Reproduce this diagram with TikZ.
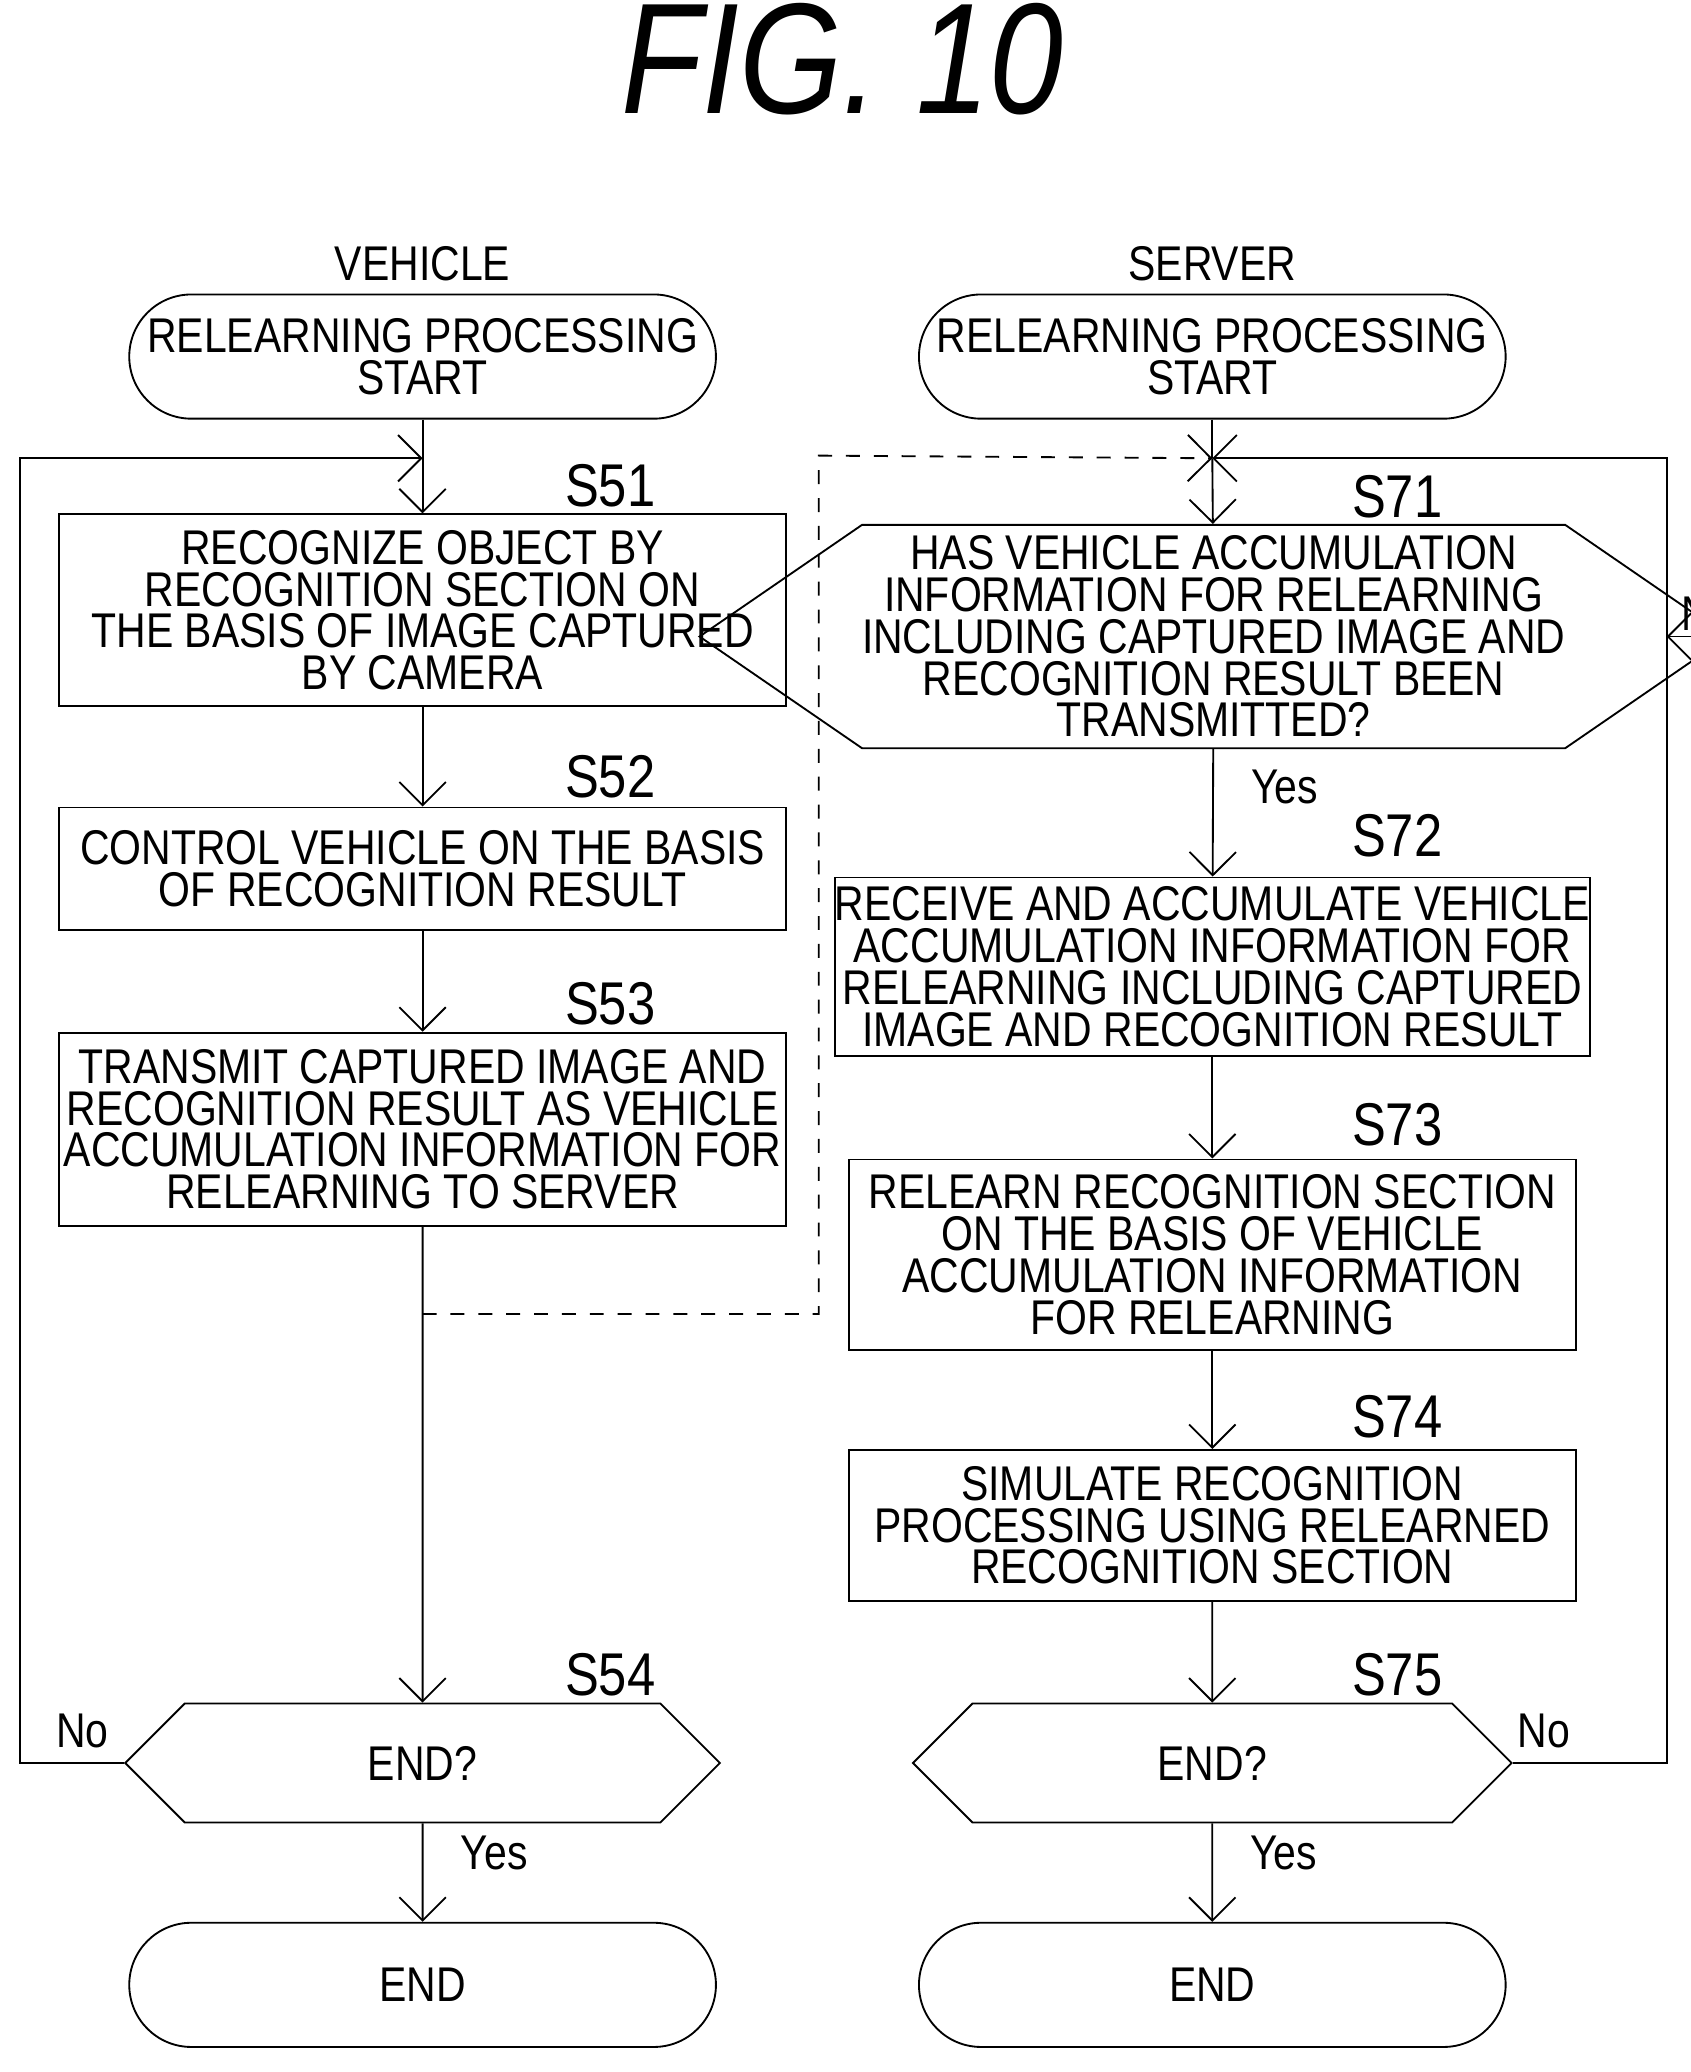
\documentclass[tikz,border=0pt]{standalone}
\usepackage{fontspec}
\setmainfont{Liberation Sans}[FakeStretch=0.84]
\usetikzlibrary{shapes.symbols,arrows.meta}
\begin{document}
\begin{tikzpicture}[x=0.01cm,y=-0.01cm,
  every node/.style={font=\fontsize{10.5}{9}\selectfont,align=center,inner sep=0pt},
  term/.style={draw,rectangle,rounded corners=0.47cm,minimum width=4.44cm,minimum height=0.94cm},
  proc/.style={draw,rectangle,minimum width=5.5cm},
  test/.style={draw,signal,signal to=west and east,minimum height=0.9cm},
  lbl/.style={font=\fontsize{13}{13}\selectfont},
  flow/.style={-{Straight Barb[length=5pt]},thin}]
\useasboundingbox (0,0) rectangle (1280,1569);
\node[font=\itshape\fontsize{34}{34}\selectfont] (title) at (638,45) {FIG. 10};
\node (veh) at (320,200) {VEHICLE};
\node (srv) at (918,200) {SERVER};
% vehicle side
\node[term] (vstart) at (320,270) {RELEARNING PROCESSING\\START};
\node[proc,minimum height=1.45cm] (s51) at (320,462) {RECOGNIZE OBJECT BY\\RECOGNITION SECTION ON\\THE BASIS OF IMAGE CAPTURED\\BY CAMERA};
\node[proc,minimum height=0.93cm] (s52) at (320,658) {CONTROL VEHICLE ON THE BASIS\\OF RECOGNITION RESULT};
\node[proc,minimum height=1.46cm] (s53) at (320,855) {TRANSMIT CAPTURED IMAGE AND\\RECOGNITION RESULT AS VEHICLE\\ACCUMULATION INFORMATION FOR\\RELEARNING TO SERVER};
\node[test,minimum width=4.5cm,signal pointer angle=90] (s54) at (320,1335) {END?};
\node[term] (vend) at (320,1503) {END};
\node[lbl] at (462,368) {S51};
\node[lbl] at (462,588) {S52};
\node[lbl] at (462,760) {S53};
\node[lbl] at (462,1268) {S54};
% server side
\node[term] (sstart) at (918,270) {RELEARNING PROCESSING\\START};
\node[test,minimum width=5.54cm,minimum height=1.69cm,signal pointer angle=69] (s71) at (919,482) {HAS VEHICLE ACCUMULATION\\INFORMATION FOR RELEARNING\\INCLUDING CAPTURED IMAGE AND\\RECOGNITION RESULT BEEN\\TRANSMITTED?};
\node[proc,minimum height=1.35cm] (s72) at (918,732) {RECEIVE AND ACCUMULATE VEHICLE\\ACCUMULATION INFORMATION FOR\\RELEARNING INCLUDING CAPTURED\\IMAGE AND RECOGNITION RESULT};
\node[proc,minimum height=1.44cm] (s73) at (918,950) {RELEARN RECOGNITION SECTION\\ON THE BASIS OF VEHICLE\\ACCUMULATION INFORMATION\\FOR RELEARNING};
\node[proc,minimum height=1.14cm] (s74) at (918,1155) {SIMULATE RECOGNITION\\PROCESSING USING RELEARNED\\RECOGNITION SECTION};
\node[test,minimum width=4.53cm,signal pointer angle=90] (s75) at (918,1335) {END?};
\node[term] (send) at (918,1503) {END};
\node[lbl] at (1058,376) {S71};
\node[lbl] at (1058,633) {S72};
\node[lbl] at (1058,852) {S73};
\node[lbl] at (1058,1073) {S74};
\node[lbl] at (1058,1268) {S75};
% connectors
\coordinate (vjoin) at (320,347);
\coordinate (sjoin) at (918,347);
\coordinate (vtap) at (320,995);
\coordinate (noout) at (1262,482);
\draw (vstart) -- (vjoin);
\draw[flow] (vjoin) -- (s51);
\draw[flow] (s51) -- (s52);
\draw[flow] (s52) -- (s53);
\draw[flow] (s53) -- (s54);
\draw[flow] (s54) -- node[pos=0.3,right=8pt] {Yes} (vend);
\draw[flow] (s54.west) -- node[pos=0.4,above=3pt] {No} (15,1335) -- (15,347) -- (vjoin);
\draw[dashed,flow] (vtap) -- (620,995) -- (620,345) -- (sjoin);
\draw (sstart) -- (sjoin);
\draw[flow] (sjoin) -- (s71);
\draw[flow] (s71) -- node[pos=0.3,right=8pt] {Yes} (s72);
\draw[flow] (s71.east) -- node[pos=0.35,above=1pt] {No} (noout);
\draw[flow] (s72) -- (s73);
\draw[flow] (s73) -- (s74);
\draw[flow] (s74) -- (s75);
\draw[flow] (s75) -- node[pos=0.3,right=8pt] {Yes} (send);
\draw[flow] (s75.east) -- node[pos=0.2,above=3pt] {No} (1262,1335) -- (1262,347) -- (sjoin);
\end{tikzpicture}
\end{document}
